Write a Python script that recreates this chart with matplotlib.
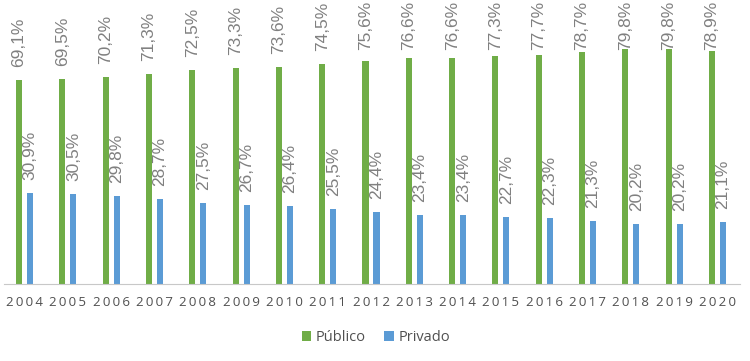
import numpy as np
import matplotlib.pyplot as plt

years = [str(y) for y in range(2004, 2021)]
publico = [69.1, 69.5, 70.2, 71.3, 72.5, 73.3, 73.6, 74.5, 75.6, 76.6, 76.6, 77.3, 77.7, 78.7, 79.8, 79.8, 78.9]
privado = [30.9, 30.5, 29.8, 28.7, 27.5, 26.7, 26.4, 25.5, 24.4, 23.4, 23.4, 22.7, 22.3, 21.3, 20.2, 20.2, 21.1]

green = '#70AD47'
blue = '#5B9BD5'

fig = plt.figure(figsize=(7.5, 3.61), dpi=100)
ax = fig.add_axes([4 / 750, 77 / 361, 736 / 750, 284 / 361])

x = np.arange(len(years))
w = 0.14
off = 0.127
ax.bar(x - off, publico, w, color=green, label='Público')
ax.bar(x + off, privado, w, color=blue, label='Privado')

def fmt(v):
    return f'{v:.1f}'.replace('.', ',') + '%'

# labels sit above the bar, but are kept inside the plot area (like Excel)
for xi, v in zip(x, publico):
    ax.text(xi - off, min(v + 4.4, 79.2), fmt(v), rotation=90, ha='center', va='bottom',
            fontsize=12.5, color='#808080', family='Liberation Sans')
for xi, v in zip(x, privado):
    ax.text(xi + off, v + 4.4, fmt(v), rotation=90, ha='center', va='bottom',
            fontsize=12.5, color='#808080', family='Liberation Sans')

ax.set_xlim(-0.475, 16.52)
ax.set_ylim(0, 96.3)
ax.set_yticks([])
ax.set_xticks(x)
ax.set_xticklabels(['\u2009'.join(y) for y in years], fontsize=9.5, color='#505050',
                   family='Open Sans')
ax.tick_params(axis='x', length=0, pad=9)
for s in ['top', 'right', 'left']:
    ax.spines[s].set_visible(False)
ax.spines['bottom'].set_color('#c8c8c8')

ax.legend(loc='center', bbox_to_anchor=(0.505, -0.19), ncol=2, frameon=False,
          prop={'family': 'Open Sans', 'size': 10.5},
          handlelength=0.65, handleheight=0.65, handletextpad=0.3,
          columnspacing=1.3, labelcolor='#505050')

fig.savefig('out.png', dpi=100)
